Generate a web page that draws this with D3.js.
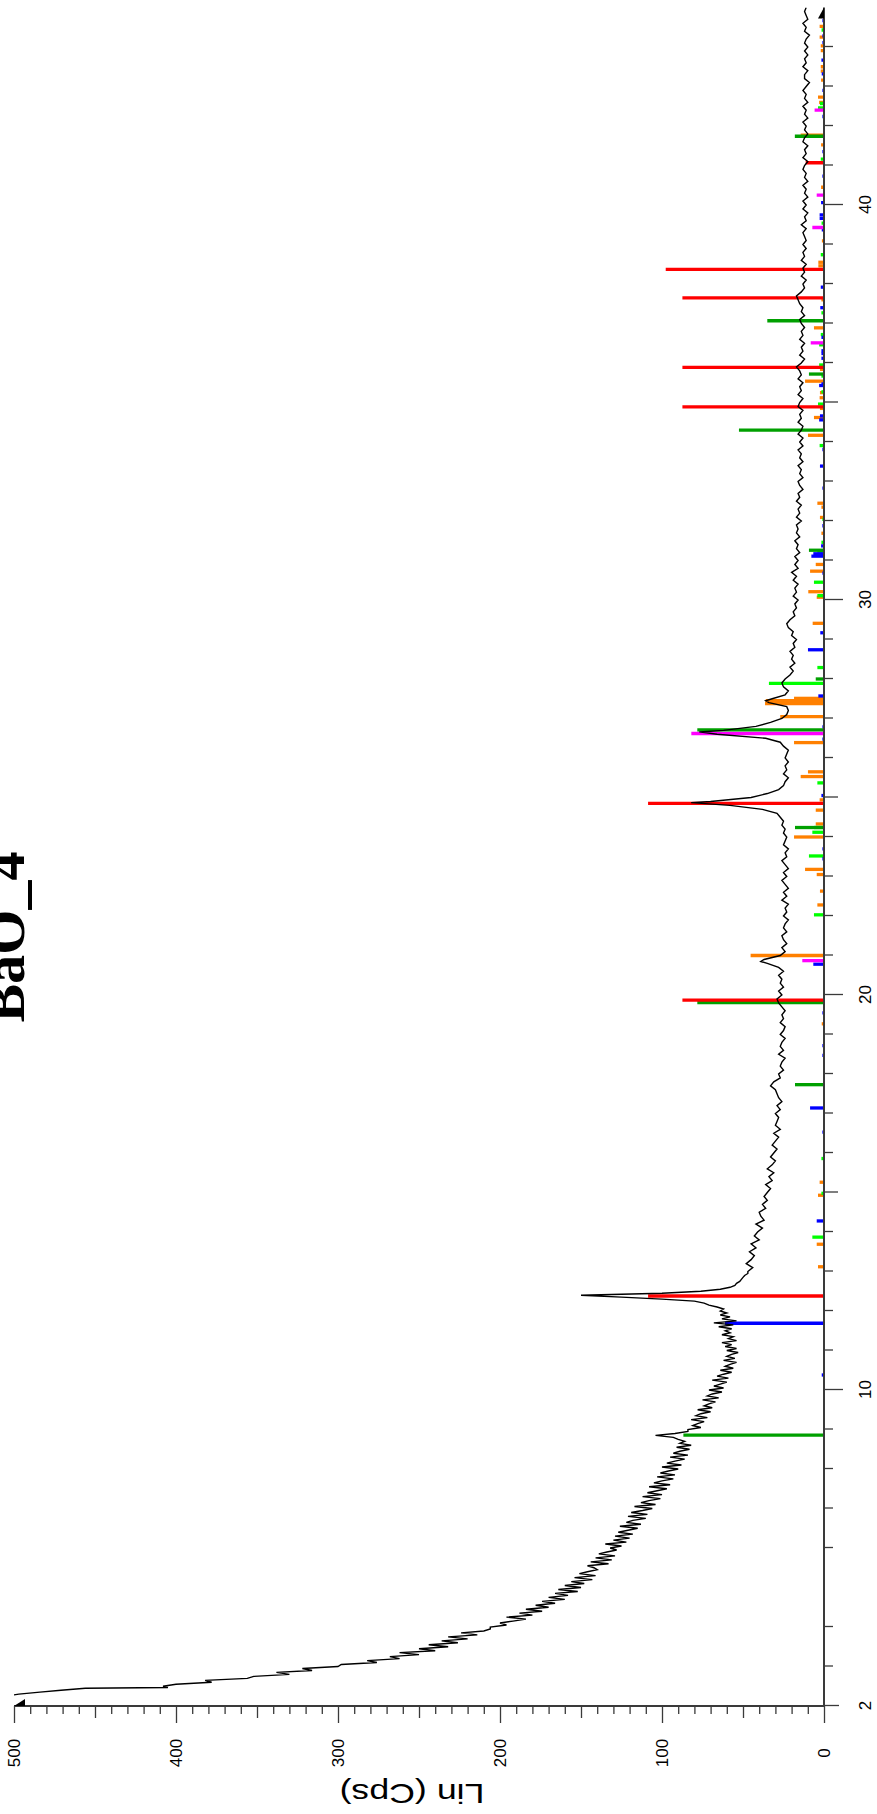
<!DOCTYPE html>
<html><head><meta charset="utf-8">
<script src="https://cdn.jsdelivr.net/npm/d3@7"></script>
<style>html,body{margin:0;padding:0;background:#fff;overflow:hidden} svg{display:block}</style>
</head><body>
<svg id="chart" width="877" height="1814"></svg>
<script>
// ---------------- data ----------------
const chartTitle = "BaO_4";
const countAxisTitle = "Lin (Cps)";
const twoThetaTickLabels = [2, 10, 20, 30, 40];
const countTickLabels = [0, 100, 200, 300, 400, 500];

// measured scan, low-angle part: 2-theta from 2.00 in 0.05 deg steps (Lin counts)
const scanLowStart = 2.0, scanLowStep = 0.05;
const scanLowCounts = [
 570,556,540,528,514,505,497,484,471,456,
 408,400,378,382,356,352,330,338,316,322,
 300,298,276,282,262,268,250,262,240,250,
 232,244,226,236,220,232,214,224,210,206,
 206,196,200,192,184,196,180,188,174,184,
 170,178,166,174,160,170,158,166,152,164,
 150,160,148,156,143,154,141,151,146,140,
 142,146,133,144,131,141,129,139,134,128,
 132,125,135,122,130,120,129,118,127,121,
 115,126,113,122,118,110,121,109,119,112,
 106,117,104,113,108,101,112,100,109,103,
 97,108,95,105,100,93,103,92,101,96,
 90,100,88,97,92,86,95,84,93,89,
 83,91,82,89,86,90,93,104,92,84,
 84,76,81,78,74,82,72,79,76,70,
 78,69,74,71,67,75,65,72,69,63,
 71,62,68,64,60,69,59,66,62,57,
 64,56,61,58,54,62,55,60,57,53,
 60,54,61,57,63,54,59,56,63,58,
 61,57,65,56,68,54,63,58,64,60,
 64,62,66,71,74,80,100,125,150,100,
 76,64,58,55,54,52,51,50,49,47
];
// measured scan, high-angle part: 2-theta from 13.0 in 0.1 deg steps
const scanHighStart = 13.0, scanHighStep = 0.1;
const scanHighCounts = [
 47,44,48,45,43,46,42,45,40,43,
 41,38,42,37,39,40,36,38,35,37,
 35,33,36,32,34,31,35,32,30,33,
 31,29,32,30,28,31,27,30,29,28,
 30,27,29,26,28,29,30,33,31,27,
 28,25,27,26,24,28,25,27,26,24,
 27,25,24,27,25,26,24,26,28,29,
 26,28,25,27,26,28,25,28,35,37,
 27,24,26,23,25,26,23,25,24,22,
 25,23,24,22,26,23,25,22,24,26,
 23,25,22,24,26,23,24,22,25,24,
 23,25,24,26,25,27,29,38,58,70,
 45,35,28,25,24,22,25,23,24,22,
 24,23,22,25,27,36,66,62,42,33,
 26,23,22,23,34,32,24,22,25,26,
 24,21,19,21,18,20,19,21,18,19,
 17,20,19,22,23,21,18,19,17,18,
 16,19,17,18,16,19,17,20,16,18,
 16,18,15,17,16,18,15,17,16,17,
 14,17,15,16,14,17,15,16,13,15,
 16,13,15,14,16,13,15,14,16,13,
 15,13,16,14,13,16,14,15,13,16,
 15,13,16,14,15,13,16,14,15,17,
 14,12,15,13,14,12,15,13,14,12,
 14,15,12,14,13,15,16,17,14,12,
 13,11,14,12,13,11,14,12,13,11,
 13,11,12,13,11,14,11,12,10,13,
 11,13,10,12,11,13,10,12,11,13,
 12,10,13,11,12,10,13,12,10,12,
 11,13,10,12,11,13,10,12,11,13,
 11,9,12,12,10,13,11,12,10,12,
 10,12,11,9,12,11,13,10,11,12,
 11
];
// extra measured points at peak tops / spikes [2theta, counts]
const peakPoints = [[2.47,405],[20.85,39],[24.87,82],[26.66,77],[27.45,36]];

// reference pattern sticks [2theta, counts]
const sticksRed = [[12.38,108.6],[19.87,87.4],[24.85,108.6],[34.89,87.4],[35.89,87.4],[37.65,87.4],[38.37,97.7],[41.07,11.3]];
const sticksDarkGreen = [[8.86,86.8],[17.73,17.9],[19.81,78.2],[24.24,17.9],[26.71,78.2],[28.0,5.1],[31.26,9.3],[34.3,52.5],[35.72,9.3],[37.07,35],[41.74,18]];
const sticksBlue = [[10.38,1.4],[11.69,61.1],[14.28,4.5],[16.53,1],[17.14,8.6],[18.47,1],[18.72,1],[19.55,1],[20.78,6.6],[23.45,1],[23.7,1],[25.05,1.6],[26.48,1],[26.79,1],[27.57,3.5],[28.74,9.9],[29.17,2.3],[30.68,1],[31.11,7.8],[31.17,6.6],[31.37,1.8],[31.88,1],[32.83,1],[33.39,2.5],[33.81,1],[34.56,3],[34.66,2.5],[35.43,3],[35.47,1.6],[36.12,1.6],[36.24,1.6],[36.31,1.6],[36.65,1.6],[37.4,2.3],[37.92,2],[39.37,1.4],[39.66,2.7],[39.75,2.7],[40.06,1.8],[40.73,1],[41.35,1],[42.24,1],[42.9,1],[43.32,1.4],[43.67,1.6],[44.11,1],[44.28,1],[44.67,1]];
const sticksOrange = [[13.12,3.7],[13.69,4.5],[14.93,3.7],[15.26,2.7],[19.27,1.4],[21.0,45.3],[22.28,4.1],[22.63,2.5],[23.05,4.5],[23.18,11.7],[24.0,18.5],[24.33,5.1],[24.68,5.1],[24.94,2.7],[25.53,14.4],[25.65,9.9],[26.39,18.5],[27.05,27],[27.38,36.4],[27.45,36],[27.51,18.5],[29.41,7],[30.07,4.5],[30.21,9.7],[30.73,8.6],[30.9,5.1],[31.69,1.6],[32.09,2.5],[32.35,1.6],[32.45,4.1],[34.17,9.9],[34.62,6.2],[34.85,2.5],[35.12,2.7],[35.25,2.5],[35.54,11.7],[35.84,2.5],[36.89,6.2],[37.6,1.6],[38.46,3.5],[38.55,3.5],[39.09,1.3],[40.45,1.8],[41.52,1.8],[41.77,14.4],[42.6,3],[42.73,3.7],[43.16,1.8],[43.39,2],[43.5,2],[43.91,2],[44.03,2],[44.25,2.7],[44.52,2.7]];
const sticksLime = [[13.87,7.2],[14.98,1.6],[15.86,1.6],[22.03,6.2],[23.52,9.3],[24.12,7.2],[24.24,6.2],[25.37,4.1],[27.89,34],[28.29,4.1],[30.11,4.1],[30.45,6.2],[31.2,4.1],[31.46,1.6],[32.04,1],[33.91,2.7],[34.96,3.7],[35.27,1.6],[35.67,1.6],[35.95,3],[36.46,3],[36.72,2],[37.27,1.6],[38.74,2],[39.54,1.5],[41.16,2],[42.46,3.7],[42.57,2.5],[44.43,1.5]];
const sticksMagenta = [[20.87,13.4],[26.62,81.9],[36.51,8.2],[39.43,7.2],[40.25,4.5],[42.4,5.8]];

const stickSets = [
  {data: sticksOrange, color: "#ff8000"},
  {data: sticksLime, color: "#00ff00"},
  {data: sticksBlue, color: "#0000ff"},
  {data: sticksMagenta, color: "#ff00ff"},
  {data: sticksDarkGreen, color: "#00a000"},
  {data: sticksRed, color: "#ff0000"}
];

// ---------------- drawing ----------------
const W = 877, H = 1814;
const svg = d3.select("#chart");
// the chart is drawn in landscape and turned a quarter turn counter-clockwise
const g = svg.append("g").attr("transform", `translate(0,${H}) rotate(-90)`);

const x = d3.scaleLinear().domain([2, 45]).range([108, 1806.5]);
const y = d3.scaleLinear().domain([0, 500]).range([824, 14]);

g.append("clipPath").attr("id", "plotclip").append("rect")
  .attr("x", x(2)).attr("y", y(500)).attr("width", x(45) - x(2)).attr("height", y(0) - y(500));

// sticks
const stickG = g.append("g").attr("clip-path", "url(#plotclip)");
stickSets.forEach(s => {
  stickG.append("g").selectAll("line").data(s.data).join("line")
    .attr("x1", d => x(d[0])).attr("x2", d => x(d[0]))
    .attr("y1", y(0)).attr("y2", d => y(d[1]))
    .attr("stroke", s.color).attr("stroke-width", 3.3);
});

// trace
const trace = scanLowCounts.map((c, i) => [+(scanLowStart + i * scanLowStep).toFixed(2), c])
  .concat(scanHighCounts.map((c, i) => [+(scanHighStart + i * scanHighStep).toFixed(2), c]))
  .concat(peakPoints).sort((a, b) => a[0] - b[0]);
g.append("path").datum(trace)
  .attr("clip-path", "url(#plotclip)")
  .attr("fill", "none").attr("stroke", "#000").attr("stroke-width", 1.4)
  .attr("stroke-linejoin", "miter")
  .attr("d", d3.line().x(d => x(d[0])).y(d => y(d[1])));

const axisColor = "#3a3a3a";
function styleAxis(sel) {
  sel.selectAll("line").attr("stroke", axisColor).attr("stroke-width", 1.3);
  sel.selectAll("path").remove();
}
// 2-theta axis (bottom in landscape)
const bx = g.append("g").attr("transform", `translate(0,${y(0)})`);
bx.append("g").call(d3.axisBottom(x).tickValues(d3.range(3, 45, 1).filter(v => v % 5 !== 0)).tickSize(9).tickFormat("")).call(styleAxis);
bx.append("g").call(d3.axisBottom(x).tickValues([15, 25, 35]).tickSize(14).tickFormat("")).call(styleAxis);
bx.append("g").call(d3.axisBottom(x).tickValues([10, 20, 30, 40]).tickSize(19).tickFormat("")).call(styleAxis);
bx.append("g").call(d3.axisBottom(x).tickValues([2]).tickSize(15).tickFormat("")).call(styleAxis);
const bl = bx.append("g").call(d3.axisBottom(x).tickValues(twoThetaTickLabels).tickSize(0).tickPadding(0).tickFormat(d3.format("d")));
bl.select("path").remove();
bl.selectAll("text").attr("y", 41).attr("dy", "0.35em")
  .attr("font-family", "'Liberation Sans', Arial, sans-serif").attr("font-size", 17).attr("fill", "#000");
bx.append("line").attr("x1", x(2)).attr("x2", x(45)).attr("y1", 0).attr("y2", 0)
  .attr("stroke", axisColor).attr("stroke-width", 2);
bx.append("path").attr("d", `M${x(45)},0 L${x(45) - 11},0 L${x(45) - 11},-6 Z`).attr("fill", "#000");

// count axis (left in landscape)
const ly = g.append("g").attr("transform", `translate(${x(2)},0)`);
ly.append("g").call(d3.axisLeft(y).tickValues(d3.range(10, 500, 10).filter(v => v % 50 !== 0)).tickSize(8).tickFormat("")).call(styleAxis);
ly.append("g").call(d3.axisLeft(y).tickValues([50, 150, 250, 350, 450]).tickSize(12).tickFormat("")).call(styleAxis);
ly.append("g").call(d3.axisLeft(y).tickValues(countTickLabels).tickSize(17).tickFormat("")).call(styleAxis);
const yl = ly.append("g").call(d3.axisLeft(y).tickValues(countTickLabels).tickSize(0).tickFormat(d3.format("d")));
yl.select("path").remove();
yl.selectAll("text").attr("x", -47).attr("dy", "0.35em").attr("text-anchor", "middle")
  .attr("font-family", "'Liberation Sans', Arial, sans-serif").attr("font-size", 17).attr("fill", "#000");
ly.append("line").attr("x1", 0).attr("x2", 0).attr("y1", y(0)).attr("y2", y(500))
  .attr("stroke", axisColor).attr("stroke-width", 2);
ly.append("path").attr("d", `M0,${y(500)} L0,${y(500) + 11} L7,${y(500) + 11} Z`).attr("fill", "#000");

// axis title
g.append("text").attr("transform", `translate(21,412) rotate(-90)`)
  .attr("text-anchor", "middle").attr("dominant-baseline", "central")
  .attr("font-family", "'Liberation Sans', Arial, sans-serif").attr("font-size", 28).attr("fill", "#000")
  .attr("textLength", 145).attr("lengthAdjust", "spacingAndGlyphs")
  .text(countAxisTitle);

// chart title (partly outside the page, as in the source)
g.append("text").attr("x", 877).attr("y", 24).attr("text-anchor", "middle")
  .attr("font-family", "'Liberation Serif', 'Times New Roman', serif").attr("font-weight", "bold")
  .attr("font-size", 58).attr("fill", "#000").text(chartTitle);
</script>
</body></html>
